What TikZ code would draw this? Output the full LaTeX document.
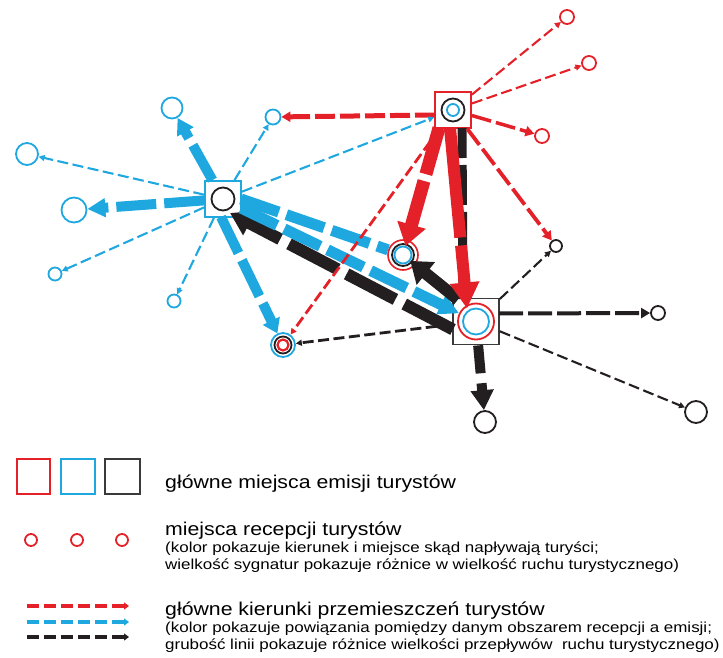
\documentclass[tikz,border=0pt]{standalone}
\usepackage{fontspec}
\setmainfont{Liberation Sans}
\newfontfamily\legfont[FakeStretch=1.15]{Liberation Sans}
\newfontfamily\legfontsm[FakeStretch=1.17]{Liberation Sans}
\usetikzlibrary{arrows.meta,calc}
\definecolor{mred}{HTML}{E42128}
\definecolor{mblue}{HTML}{1FA8E0}
\definecolor{mblack}{HTML}{231F20}
\definecolor{mgrey}{HTML}{3A3A3A}
\begin{document}
\begin{tikzpicture}[x=1pt,y=-1pt,
  ring/.style={circle,draw,line width=1.8pt,inner sep=0pt,minimum size=#1},
  emsq/.style={rectangle,draw,line width=1.8pt,fill=white,inner sep=0pt,minimum size=#1},
  thinfl/.style={line width=2.1pt,dash pattern=on 11pt off 4.5pt,-{Triangle[length=6pt,width=6pt]}},
  midfl/.style={line width=3.8pt,dash pattern=on 20pt off 5pt,-{Triangle[length=9pt,width=10pt]}},
  thickfl/.style={line width=10pt,dash pattern=on 40pt off 8pt},
  bigtxt/.style={anchor=base west,inner sep=0pt,font=\legfont\fontsize{18.5}{22}\selectfont},
  smalltxt/.style={anchor=base west,inner sep=0pt,font=\legfontsm\fontsize{14.5}{17}\selectfont},
  legarrow/.style={line width=3.3pt,dash pattern=on 12pt off 5pt,-{Triangle[length=5pt,width=7pt]}}
]
\useasboundingbox (0,0) rectangle (723,658);

% emission squares
\node[emsq=36pt, draw=mred] (R) at (453,110) {};
\node[ring=23pt, draw=mblack] (Rk) at (453,110) {};
\node[ring=12pt, draw=mblue] (Rb) at (453,110) {};

\node[emsq=36pt, draw=mblue] (B) at (223,199) {};
\node[ring=23pt, draw=mblack] (Bk) at (223,199) {};

\node[emsq=46pt, draw=mgrey] (K) at (476,321.5) {};
\node[ring=36pt, draw=mred] (Kr) at (476,321.5) {};
\node[ring=26pt, draw=mblue] (Kb) at (476,321.5) {};

% multi-coloured reception circles
\node[ring=30pt, draw=mred, line width=1.6pt] (C1) at (403,255) {};
\node[ring=22pt, draw=mblack] (C1k) at (403,255) {};
\node[ring=17pt, draw=mblue] (C1b) at (403,255) {};

\node[ring=24pt, draw=mblue] (P) at (283,345) {};
\node[ring=17pt, draw=mblack] (Pk) at (283,345) {};
\node[ring=11pt, draw=mred, line width=2.2pt] (Pr) at (283,345) {};

% reception circles
\node[ring=21pt, draw=mblue] (cB1) at (172,108) {};
\node[ring=15pt, draw=mblue] (cB2) at (273,117) {};
\node[ring=22pt, draw=mblue] (cB3) at (27,154) {};
\node[ring=25pt, draw=mblue] (cB4) at (74,210) {};
\node[ring=13pt, draw=mblue] (cB5) at (55,274) {};
\node[ring=13pt, draw=mblue] (cB6) at (174,301) {};
\node[ring=14pt, draw=mred] (cR1) at (567,17) {};
\node[ring=14pt, draw=mred] (cR2) at (589,63) {};
\node[ring=14pt, draw=mred] (cR3) at (542,136) {};
\node[ring=12pt, draw=mblack] (cK1) at (556,246) {};
\node[ring=14pt, draw=mblack] (cK2) at (658,313) {};
\node[ring=22pt, draw=mblack] (cK3) at (696,412) {};
\node[ring=22pt, draw=mblack] (cK4) at (485,422) {};

% blue thick flows
\draw[mblue, thickfl, -{Triangle[length=16pt,width=18pt]}] (B) -- (cB1);
\draw[mblue, thickfl, -{Triangle[length=18pt,width=18pt]}] (B) -- (cB4);
\draw[mblue, thickfl, -{Triangle[length=14pt,width=18pt]}] ($(B)+(-2,18)$) -- (P);
\draw[mblue, thickfl, line width=11pt] ($(B)+(18,0)$) -- (C1);

% black thick flows
\draw[mblack, line width=12pt, dash pattern=on 55pt off 10pt, -{Triangle[length=22pt,width=26pt]}] ($(K)+(-23,8)$) -- ($(B)+(7,14)$);
\draw[mblue, thickfl, line width=11pt, -{Triangle[length=20pt,width=20pt]}] ($(B)+(18,9)$) -- (Kr);
\draw[mblack, line width=12pt, -{Triangle[length=20pt,width=28pt]}] ($(K)+(-18,-22)$) -- (C1b);
\draw[mblack, line width=9pt, dash pattern=on 40pt off 7pt] ($(K)+(-13,-22.5)$) -- ($(R)+(9,18)$);
\draw[mblack, line width=10pt, dash pattern=on 28pt off 10pt, -{Triangle[length=20pt,width=22pt]}] (K) -- (cK4);

% red thick flows
\draw[mred, line width=13pt, dash pattern=on 48pt off 7pt, -{Triangle[length=22pt,width=28pt]}] ($(R)+(-14,18)$) -- (C1b);
\draw[mred, line width=12pt, dash pattern=on 110pt off 8pt, -{Triangle[length=26pt,width=28pt]}] ($(R)+(-3,18)$) -- ($(K)+(-9,-13)$);

% red thin flows
\draw[mred, thinfl] (R) -- (cR1);
\draw[mred, thinfl] (R) -- (cR2);
\draw[mred, midfl, line width=3.5pt] (R) -- (cR3);
\draw[mred, midfl, line width=5pt] ($(R)+(-18,5)$) -- (cB2);
\draw[mred, midfl] (R) -- (cK1);
\draw[mred, thinfl, line width=2.8pt] (R) -- (P);

% blue thin flows
\draw[mblue, thinfl] (B) -- (cB2);
\draw[mblue, thinfl] (B) -- (cB3);
\draw[mblue, thinfl] (B) -- (cB5);
\draw[mblue, thinfl] (B) -- (cB6);
\draw[mblue, thinfl] (B) -- (R);

% black thin flows
\draw[mblack, thinfl] (K) -- (cK1);
\draw[mblack, midfl, line width=4pt, dash pattern=on 24pt off 5pt] ($(K)+(23,-8)$) -- (cK2);
\draw[mblack, thinfl] (K) -- (cK3);
\draw[mblack, thinfl, line width=2.8pt] (K) -- (P);

% legend
\node[rectangle, draw=mred, line width=2pt, minimum width=33pt, minimum height=35pt, inner sep=0pt] (L1) at (33.5,476.5) {};
\node[rectangle, draw=mblue, line width=2pt, minimum width=34pt, minimum height=35pt, inner sep=0pt] (L2) at (78,476.5) {};
\node[rectangle, draw=mgrey, line width=2pt, minimum width=35pt, minimum height=35pt, inner sep=0pt] (L3) at (122.5,476.5) {};
\node[bigtxt] (T1) at (165,488) {główne miejsca emisji turystów};

\node[ring=12pt, draw=mred, line width=1.8pt] (LC1) at (31,540) {};
\node[ring=12pt, draw=mred, line width=1.8pt] (LC2) at (77,540) {};
\node[ring=12pt, draw=mred, line width=1.8pt] (LC3) at (122,540) {};
\node[bigtxt] (T2) at (165,535) {miejsca recepcji turystów};
\node[smalltxt] (T3) at (165,552) {(kolor pokazuje kierunek i miejsce skąd napływają turyści;};
\node[smalltxt] (T4) at (165,569) {wielkość sygnatur pokazuje różnice w wielkość ruchu turystycznego)};

\coordinate (A1s) at (27,606); \coordinate (A1e) at (129,606);
\coordinate (A2s) at (27,622); \coordinate (A2e) at (129,622);
\coordinate (A3s) at (27,637); \coordinate (A3e) at (129,637);
\draw[mred, legarrow] (A1s) -- (A1e);
\draw[mblue, legarrow] (A2s) -- (A2e);
\draw[mblack, legarrow] (A3s) -- (A3e);
\node[bigtxt] (T5) at (165,615) {główne kierunki przemieszczeń turystów};
\node[smalltxt] (T6) at (165,632) {(kolor pokazuje powiązania pomiędzy danym obszarem recepcji a emisji;};
\node[smalltxt] (T7) at (165,649) {grubość linii pokazuje różnice wielkości przepływów~ ruchu turystycznego)};
\end{tikzpicture}
\end{document}
